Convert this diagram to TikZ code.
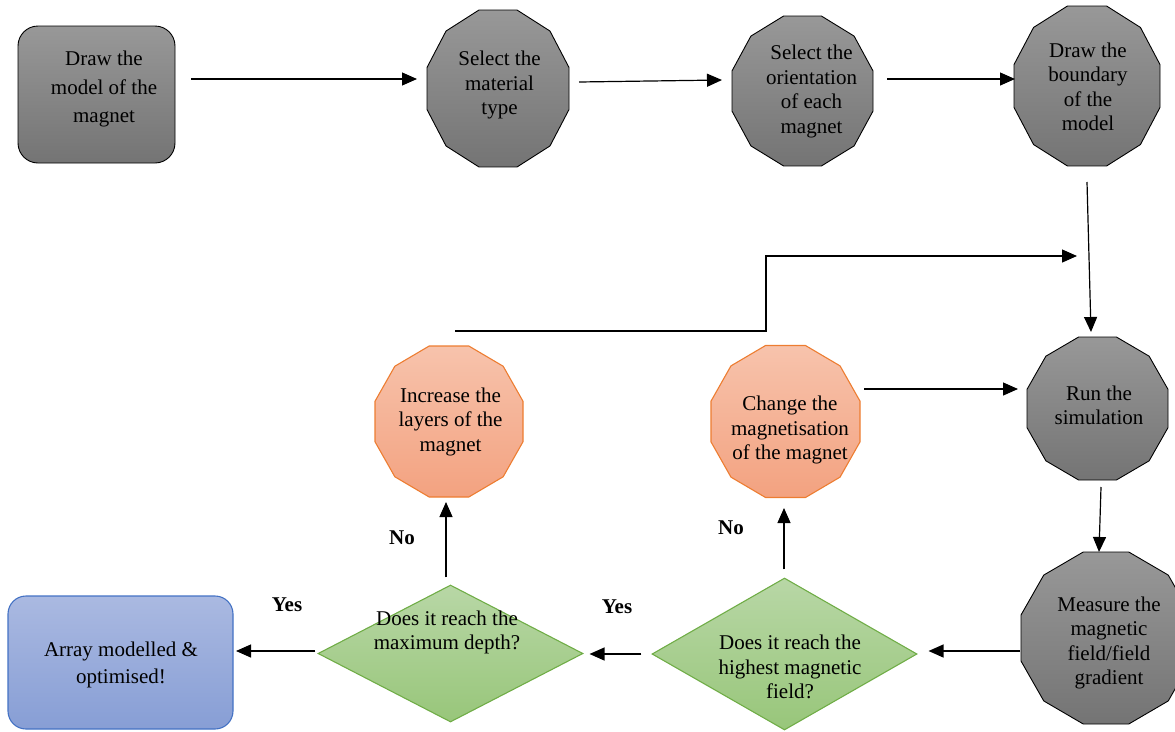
\documentclass[tikz,border=0pt]{standalone}
\usepackage{fontspec}
\setmainfont{Liberation Serif}
\usetikzlibrary{arrows.meta,calc,shapes.geometric}
\definecolor{grayA}{RGB}{152,152,152}
\definecolor{grayB}{RGB}{116,116,116}
\definecolor{orA}{RGB}{247,195,172}
\definecolor{orB}{RGB}{243,162,128}
\definecolor{orL}{RGB}{237,125,49}
\definecolor{grA}{RGB}{184,215,166}
\definecolor{grB}{RGB}{152,198,122}
\definecolor{grL}{RGB}{112,173,71}
\definecolor{blA}{RGB}{170,185,225}
\definecolor{blB}{RGB}{135,158,213}
\definecolor{blL}{RGB}{68,114,196}
\newcommand\dodec[4]{%
  \path[#4] ($(#1.center)+({#2/2},{#3/2*tan(15)})$)
    \foreach \ang in {45,75,...,345}{ -- ($(#1.center)+({#2/2/cos(15)*cos(\ang)},{#3/2/cos(15)*sin(\ang)})$)} -- cycle;}
\tikzset{
  every node/.style={font=\fontsize{21}{24.5}\selectfont},
  shp/.style={rectangle, inner sep=0pt, outer sep=0pt},
  txt/.style={align=center, inner sep=0pt},
  lbl/.style={font=\fontsize{21}{24.5}\selectfont\bfseries, inner sep=0pt},
  arw/.style={line width=1.2pt, -{Triangle[length=15pt,width=13pt]}},
  grayfill/.style={draw=black, line width=0.9pt, top color=grayA, bottom color=grayB},
  orfill/.style={draw=orL, line width=1.1pt, top color=orA, bottom color=orB},
  grfill/.style={draw=grL, line width=1.1pt, top color=grA, bottom color=grB},
  blfill/.style={draw=blL, line width=1.1pt, top color=blA, bottom color=blB},
}
\begin{document}
\begin{tikzpicture}[x=1pt,y=-1pt]
\useasboundingbox (0,0) rectangle (1175,731);
% shapes
\node[shp, grayfill, rounded corners=20pt, minimum width=157, minimum height=137] (drawm) at (96.5,94.5) {};
\node[shp, minimum width=142, minimum height=157] (mat) at (498,88.5) {};
\node[shp, minimum width=141, minimum height=150] (ori) at (802.5,91) {};
\node[shp, minimum width=146, minimum height=160] (bnd) at (1087,86) {};
\node[shp, minimum width=141, minimum height=143] (run) at (1097.5,408.5) {};
\node[shp, minimum width=170, minimum height=172] (meas) at (1106,638) {};
\node[shp, minimum width=148, minimum height=151] (inc) at (449,421.5) {};
\node[shp, minimum width=149, minimum height=152] (chg) at (785.5,421.5) {};
\node[diamond, grfill, inner sep=0pt, minimum width=265, minimum height=137] (maxd) at (450.5,653.5) {};
\node[diamond, grfill, inner sep=0pt, minimum width=265, minimum height=152] (high) at (784.5,654) {};
\node[shp, blfill, rounded corners=18pt, minimum width=225, minimum height=133] (arr) at (120.5,662.5) {};
\dodec{mat}{142}{157}{grayfill}
\dodec{ori}{141}{150}{grayfill}
\dodec{bnd}{146}{160}{grayfill}
\dodec{run}{141}{143}{grayfill}
\dodec{meas}{170}{172}{grayfill}
\dodec{inc}{148}{151}{orfill}
\dodec{chg}{149}{152}{orfill}
% texts
\node[txt, font=\fontsize{21}{28.5}\selectfont] (drawmt) at (104,89) {Draw the\\model of the\\magnet};
\node[txt] (matt) at (499.5,85) {Select the\\material\\type};
\node[txt] (orit) at (811.5,91.5) {Select the\\orientation\\of each\\magnet};
\node[txt] (bndt) at (1088,87) {Draw the\\boundary\\of the\\model};
\node[txt] (runt) at (1099,405.5) {Run the\\simulation};
\node[txt] (meast) at (1109,643) {Measure the\\magnetic\\field/field\\gradient};
\node[txt] (inct) at (450.5,421.7) {Increase the\\layers of the\\magnet};
\node[txt] (chgt) at (790,430) {Change the\\magnetisation\\of the magnet};
\node[txt] (maxdt) at (447,632.5) {Does it reach the\\maximum depth?};
\node[txt] (hight) at (790,667) {Does it reach the\\highest magnetic\\field?};
\node[txt, font=\fontsize{21}{27}\selectfont] (arrt) at (121,664.5) {Array modelled \&\\optimised!};
\node[lbl] (no1) at (402,538) {No};
\node[lbl] (no2) at (731,528) {No};
\node[lbl] (yes1) at (287,605) {Yes};
\node[lbl] (yes2) at (617,607) {Yes};
% connectors
\draw[arw] ($(drawm.east)+(16,-15.5)$) -- ($(mat.west)+(-10,-9.5)$);
\draw[arw] ($(mat.east)+(10,-6.5)$) -- ($(ori.west)+(-10,-11)$);
\draw[arw] ($(ori.east)+(14,-12)$) -- ($(bnd.west)+(1,-7)$);
\draw[arw] ($(bnd.south)+(0,16)$) -- ($(run.north)+(-6.5,-5)$);
\draw[arw] ($(run.south)+(3.5,7)$) -- ($(meas.north)+(-7,0)$);
\draw[arw] ($(meas.west)+(-1,13)$) -- ($(high.east)+(11,-3)$);
\draw[arw] ($(high.west)+(-10,0)$) -- ($(maxd.east)+(6,0.5)$);
\draw[arw] ($(maxd.west)+(-2,-2.5)$) -- ($(arr.east)+(3,-11.5)$);
\draw[arw] ($(maxd.north)+(-4.5,-7)$) -- ($(inc.south)+(-3,5)$);
\draw[arw] ($(high.north)+(-0.5,-8)$) -- ($(chg.south)+(-1.5,10.5)$);
\draw[arw] ($(chg.east)+(4,-32.5)$) -- ($(run.west)+(-9,-19.5)$);
\coordinate (elb) at (766,256);
\coordinate (join) at (1077,256);
\draw[arw] ($(inc.north)+(6,-15)$) -| (elb) -- (join);
\end{tikzpicture}
\end{document}
